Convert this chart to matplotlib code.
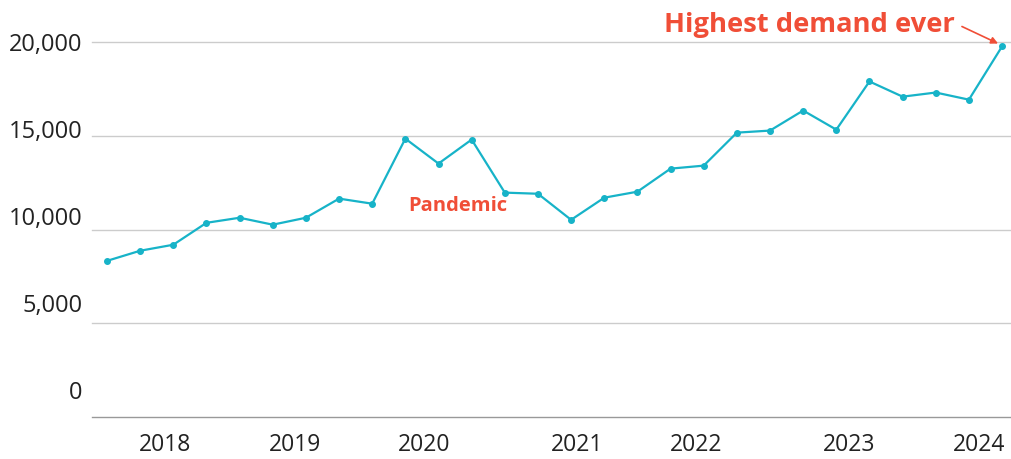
import matplotlib
matplotlib.use("Agg")
import matplotlib.pyplot as plt
import numpy as np

# quarterly demand, 2017 Q3 .. 2024 Q2
demand = [8330, 8870, 9190, 10360, 10630, 10260, 10630, 11650, 11380, 14850,
          13520, 14800, 11970, 11910, 10520, 11700, 12020, 13250, 13410, 15170,
          15280, 16350, 15330, 17900, 17090, 17310, 16930, 19770]
year_ticks = [1.75, 5.67, 9.56, 14.18, 17.77, 22.38, 26.3]
year_labels = ['2018', '2019', '2020', '2021', '2022', '2023', '2024']
y_ticks = [0, 5000, 10000, 15000, 20000]

line_color = '#17b3c8'
accent = '#f04e37'

plt.rcParams['font.family'] = ['Open Sans', 'DejaVu Sans']

fig = plt.figure(figsize=(10.12, 4.6), dpi=100)
ax = fig.add_axes([92 / 1012, 1 - 418 / 460, 920 / 1012, 418 / 460])

x = np.arange(len(demand))
ax.plot(x, demand, color=line_color, lw=1.6, marker='o', ms=4, zorder=3)

ax.set_xlim(-0.4525, 27.3)
ax.set_ylim(0, 22300)

for v in y_ticks:
    ax.axhline(v, color='#cccccc' if v else '#999999', lw=1, zorder=1, clip_on=False)
    # labels sit slightly above their grid lines
    ax.text(-0.73, v + 1335 - v * 0.0705, '{:,}'.format(v), ha='right', va='center',
            fontsize=17, color='#222222', clip_on=False)

ax.set_yticks([])
ax.set_xticks(year_ticks)
ax.set_xticklabels(year_labels, fontsize=16.5, color='#222222')
ax.tick_params(axis='x', length=0, pad=11)
for s in ax.spines.values():
    s.set_visible(False)

ax.text(9.08, 11325, 'Pandemic', color=accent, fontsize=14.5, fontweight='bold', va='center')

ax.text(25.58, 20950, 'Highest demand ever', ha='right', va='center',
        color=accent, fontsize=19.7, fontweight='bold')
ax.annotate('', xy=(26.88, 19925), xytext=(25.79, 20833),
            arrowprops=dict(arrowstyle='-|>', color=accent, lw=1.2, mutation_scale=10,
                            shrinkA=0, shrinkB=0))

fig.savefig('out.png', dpi=100)
